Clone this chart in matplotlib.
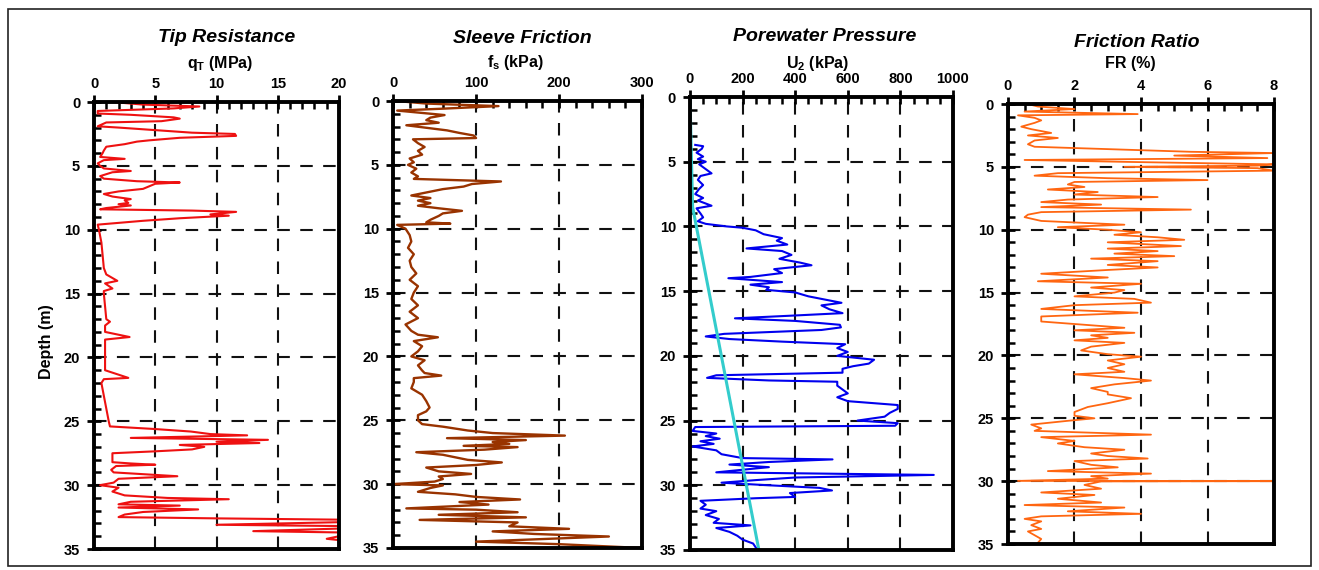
import matplotlib.pyplot as plt
from matplotlib.patches import Rectangle
from matplotlib.ticker import MultipleLocator

plt.rcParams["font.family"] = ["Liberation Sans", "DejaVu Sans"]

# Tip resistance qT (MPa)
qt_depth = [0.0, 0.2, 0.35, 0.5, 0.7, 0.9, 1.0, 1.2, 1.3, 1.5, 1.6, 1.9, 2.0, 2.2, 2.4, 2.5,
            2.65, 2.8, 3.0, 3.1, 3.3, 3.5, 3.8, 4.0, 4.3, 4.45, 4.55, 4.8, 5.0, 5.2, 5.4, 5.5,
            5.8, 6.0, 6.2, 6.3, 6.4, 6.6, 6.8, 7.0, 7.2, 7.4, 7.6, 7.7, 7.9, 8.0, 8.1, 8.3,
            8.4, 8.5, 8.6, 8.8, 8.9, 9.1, 9.3, 9.5, 9.6, 10.0, 11.0, 12.0, 13.0, 13.5, 14.0,
            14.2, 14.6, 14.8, 15.0, 16.0, 17.0, 17.2, 17.5, 18.0, 18.4, 18.6, 19.0, 20.0, 21.0,
            21.6, 21.7, 22.0, 23.0, 24.0, 25.0, 25.4, 25.6, 25.8, 26.0, 26.1, 26.3, 26.45, 26.6,
            26.7, 26.85, 27.0, 27.2, 27.35, 27.5, 27.8, 28.2, 28.3, 28.4, 28.5, 28.8, 29.0, 29.3,
            29.5, 29.8, 30.0, 30.2, 30.5, 30.8, 31.0, 31.1, 31.3, 31.5, 31.6, 31.75, 31.9, 32.1,
            32.3, 32.5, 32.6, 32.7, 32.9, 33.0, 33.1, 33.2, 33.4, 33.6, 33.7, 34.0, 34.2, 34.3]
qt_value = [1.5, 4.0, 8.6, 6.5, 0.3, 0.3, 3.0, 6.5, 7.0, 5.5, 1.0, 0.3, 2.0, 5.0, 8.0, 11.5,
            11.6, 7.0, 4.5, 3.5, 2.5, 1.0, 0.8, 0.7, 0.5, 2.5, 0.8, 0.3, 0.5, 0.8, 3.0, 1.5,
            0.5, 0.8, 3.5, 7.0, 5.0, 4.5, 4.0, 2.0, 0.8, 1.5, 3.0, 2.5, 2.8, 2.0, 3.0, 1.0,
            0.5, 8.0, 11.6, 9.5, 11.0, 7.0, 4.0, 1.5, 0.3, 0.4, 0.6, 0.7, 0.8, 1.0, 1.9,
            0.9, 1.5, 0.8, 0.8, 0.9, 1.0, 1.3, 0.9, 0.9, 2.9, 0.9, 0.9, 0.9, 0.9,
            2.8, 0.8, 0.6, 0.8, 1.0, 1.2, 1.3, 4.9, 7.9, 9.5, 12.5, 3.0, 14.2, 10.0,
            13.5, 7.0, 9.0, 8.0, 5.0, 1.5, 1.5, 1.5, 3.0, 5.0, 1.8, 1.4, 1.6, 6.8,
            2.0, 1.6, 0.5, 2.0, 1.5, 2.5, 6.0, 11.0, 3.0, 2.0, 7.0, 2.0, 8.5, 4.0,
            2.5, 2.0, 10.0, 20.0, 20.0, 15.0, 10.0, 20.0, 20.0, 13.0, 20.0, 20.0, 19.0, 20.0]

# Sleeve friction fs (kPa)
fs_depth = [0.0, 0.2, 0.4, 0.6, 0.75, 0.9, 1.1, 1.3, 1.5, 1.7, 1.9, 2.1, 2.3, 2.5, 2.7, 2.9,
            3.0, 3.3, 3.6, 3.9, 4.2, 4.5, 4.8, 5.0, 5.3, 5.6, 5.9, 6.1, 6.3, 6.5, 6.7, 6.9,
            7.1, 7.4, 7.6, 7.8, 8.0, 8.2, 8.4, 8.6, 8.8, 9.0, 9.3, 9.5, 9.6, 9.7, 10.0, 10.5,
            11.0, 11.5, 12.0, 12.5, 13.0, 13.5, 14.0, 14.5, 15.0, 15.5, 16.0, 16.5, 17.0, 17.5,
            18.0, 18.3, 18.5, 18.8, 19.2, 19.6, 20.0, 20.3, 20.7, 21.1, 21.3, 21.5, 21.7, 22.0,
            22.5, 23.0, 23.5, 24.0, 24.3, 24.6, 25.0, 25.3, 25.5, 25.8, 26.0, 26.2, 26.4, 26.55,
            26.7, 26.85, 27.0, 27.1, 27.3, 27.5, 27.7, 27.9, 28.1, 28.3, 28.5, 28.7, 29.0, 29.2,
            29.4, 29.6, 29.8, 30.0, 30.1, 30.3, 30.6, 30.8, 31.0, 31.2, 31.4, 31.6, 31.9, 32.0,
            32.2, 32.4, 32.6, 32.8, 33.0, 33.3, 33.5, 33.7, 33.9, 34.1, 34.3, 34.5, 34.7, 35.0]
fs_value = [4, 40, 127, 60, 5, 30, 62, 45, 40, 55, 16, 40, 65, 80, 97, 100,
            24, 30, 38, 30, 35, 20, 25, 18, 28, 22, 30, 25, 130, 95, 85, 60,
            45, 22, 45, 30, 45, 30, 55, 83, 60, 55, 45, 40, 69, 5, 15, 20,
            22, 18, 25, 20, 22, 28, 20, 30, 25, 22, 30, 20, 30, 15,
            22, 30, 54, 25, 35, 30, 22, 38, 30, 35, 38, 58, 25, 25,
            22, 35, 40, 44, 40, 30, 30, 35, 60, 90, 120, 207, 65, 160,
            120, 140, 85, 150, 110, 28, 60, 75, 90, 131, 100, 40, 55, 94,
            55, 60, 50, 0, 60, 45, 30, 75, 100, 153, 80, 115, 16, 100,
            150, 55, 160, 32, 150, 140, 212, 120, 170, 260, 180, 100, 200, 300]

# Porewater pressure u2 (kPa)
u2_depth = [3.7, 3.8, 4.0, 4.3, 4.6, 4.8, 5.0, 5.2, 5.5, 5.9, 6.1, 6.4, 6.8, 7.1, 7.5, 7.8,
            8.0, 8.4, 8.6, 9.0, 9.3, 9.6, 9.8, 10.0, 10.1, 10.3, 10.6, 10.9, 11.1, 11.4, 11.7,
            11.9, 12.2, 12.5, 12.8, 13.0, 13.3, 13.6, 13.9, 14.0, 14.3, 14.5, 14.7, 14.9, 15.1,
            15.4, 15.6, 15.9, 16.1, 16.4, 16.7, 16.9, 17.1, 17.3, 17.6, 17.8, 18.0, 18.3, 18.5,
            18.7, 18.9, 19.1, 19.4, 19.7, 20.0, 20.3, 20.6, 20.8, 21.0, 21.3, 21.5, 21.7, 21.9,
            22.0, 22.3, 22.6, 22.9, 23.2, 23.5, 23.8, 24.1, 24.4, 24.7, 25.0, 25.2, 25.4, 25.5,
            25.8, 26.0, 26.2, 26.4, 26.6, 26.8, 27.0, 27.3, 27.6, 27.9, 28.0, 28.2, 28.4, 28.6,
            28.8, 29.0, 29.2, 29.4, 29.6, 29.8, 30.0, 30.2, 30.4, 30.6, 30.9, 31.0, 31.2, 31.5,
            31.8, 32.0, 32.3, 32.6, 32.9, 33.1, 33.3, 33.6, 33.9, 34.2, 34.5, 34.8, 35.0]
u2_value = [20, 50, 45, 25, 50, 30, 60, 35, 55, 82, 40, 30, 50, 35, 20, 50,
            30, 82, 25, 40, 50, 30, 60, 140, 200, 250, 280, 350, 330, 370, 215,
            350, 386, 340, 420, 462, 320, 350, 230, 146, 350, 230, 300, 290, 400,
            450, 500, 576, 500, 530, 580, 380, 171, 400, 570, 574, 500, 130, 60,
            150, 350, 590, 560, 600, 560, 700, 680, 620, 580, 580, 100, 65, 300,
            560, 560, 580, 600, 560, 600, 790, 790, 760, 740, 637, 790, 780, 20,
            10, 100, 60, 113, 40, 90, 10, 100, 120, 200, 542, 300, 150, 300,
            200, 100, 927, 400, 250, 120, 300, 492, 540, 380, 400, 250, 40, 60,
            40, 100, 60, 110, 90, 230, 100, 150, 180, 200, 240, 250, 260]

# Hydrostatic line
hydro_depth = [0.0, 8.5, 35.0]
hydro_value = [0, 10, 262]

# Friction ratio FR (%)
fr_depth = [0.0, 0.2, 0.4, 0.6, 0.8, 0.9, 1.1, 1.3, 1.5, 1.8, 2.0, 2.3, 2.5, 2.7, 2.9, 3.2,
            3.4, 3.6, 3.8, 3.9, 4.1, 4.3, 4.45, 4.6, 4.8, 4.9, 5.0, 5.1, 5.3, 5.5, 5.7, 5.9,
            6.05, 6.2, 6.4, 6.6, 6.8, 7.0, 7.2, 7.4, 7.6, 7.8, 8.0, 8.2, 8.4, 8.6, 8.8, 9.0,
            9.3, 9.6, 9.8, 10.0, 10.2, 10.4, 10.6, 10.8, 11.0, 11.3, 11.5, 11.7, 11.9, 12.1,
            12.3, 12.5, 12.8, 13.0, 13.2, 13.5, 13.8, 14.1, 14.3, 14.6, 14.8, 15.0, 15.3, 15.5,
            15.8, 16.0, 16.3, 16.6, 16.9, 17.3, 17.6, 17.8, 18.0, 18.2, 18.4, 18.6, 18.8, 19.0,
            19.3, 19.6, 19.9, 20.1, 20.4, 20.7, 21.0, 21.3, 21.5, 21.8, 22.0, 22.3, 22.6, 22.9,
            23.1, 23.4, 23.8, 24.1, 24.5, 24.8, 25.0, 25.2, 25.5, 25.8, 26.0, 26.3, 26.5, 26.8,
            27.0, 27.3, 27.5, 27.8, 28.0, 28.2, 28.4, 28.7, 28.9, 29.2, 29.4, 29.6, 29.8, 29.98,
            30.0, 30.02, 30.3, 30.6, 30.9, 31.1, 31.4, 31.7, 31.9, 32.1, 32.4, 32.6, 32.8, 33.0,
            33.2, 33.5, 33.8, 34.0, 34.3, 34.6, 34.9]
fr_value = [0.6, 0.9, 2.0, 0.5, 3.9, 0.3, 0.8, 1.0, 0.8, 0.4, 0.7, 1.3, 0.6, 1.5, 0.8, 0.6,
            0.8, 3.2, 5.5, 8.0, 5.0, 7.8, 0.5, 3.5, 8.0, 7.5, 3.5, 7.5, 8.0, 1.5, 0.8, 3.0,
            6.0, 2.0, 1.8, 2.3, 1.2, 2.7, 2.0, 4.5, 1.8, 1.0, 2.8, 1.0, 5.5, 1.0, 0.6, 0.5,
            1.0, 3.5, 1.5, 3.0, 4.0, 3.2, 4.5, 5.3, 3.0, 5.2, 3.0, 4.5, 3.2, 5.0,
            2.5, 4.5, 3.0, 4.5, 3.0, 1.0, 3.0, 0.9, 4.0, 2.5, 3.5, 3.2, 2.0, 3.8,
            4.3, 2.0, 1.0, 3.9, 1.0, 1.0, 2.5, 3.5, 2.0, 3.8, 2.5, 3.0, 2.0, 3.5,
            2.5, 2.2, 3.0, 4.0, 3.0, 3.5, 3.0, 3.5, 2.0, 3.5, 4.3, 3.2, 2.5, 3.0,
            3.0, 3.7, 3.0, 2.4, 2.0, 2.0, 2.6, 1.8, 0.7, 1.0, 0.8, 4.3, 1.0, 2.0,
            1.5, 2.3, 3.5, 2.5, 3.0, 4.2, 2.0, 2.5, 3.3, 1.2, 4.3, 2.5, 3.0, 0.3,
            8.0, 2.8, 2.3, 2.8, 1.0, 2.6, 1.5, 2.8, 0.5, 3.5, 1.8, 4.0, 1.0, 0.5,
            1.0, 0.7, 1.0, 0.6, 0.8, 1.0, 0.9]

fig = plt.figure(figsize=(13.19, 5.70), dpi=100)

# panel boxes in figure fractions: left, bottom, width, height
panels = [
    dict(rect=[0.0713, 0.0368, 0.1857, 0.7842], xmax=20, major=5, minor=1,
         title="Tip Resistance", unit=r"q$_\mathregular{T}$ (MPa)", tx=0.172, ty=0.935, uy=0.889),
    dict(rect=[0.2980, 0.0386, 0.1888, 0.7842], xmax=300, major=100, minor=20,
         title="Sleeve Friction", unit=r"f$_\mathregular{s}$ (kPa)", tx=0.396, ty=0.933, uy=0.891),
    dict(rect=[0.5231, 0.0351, 0.1994, 0.7947], xmax=1000, major=200, minor=50,
         title="Porewater Pressure", unit=r"U$_\mathregular{2}$ (kPa)", tx=0.625, ty=0.936, uy=0.889),
    dict(rect=[0.7642, 0.0456, 0.2017, 0.7719], xmax=8, major=2, minor=0.5,
         title="Friction Ratio", unit="FR (%)", tx=0.862, ty=0.926, uy=0.889),
]

axes = []
for p in panels:
    ax = fig.add_axes(p["rect"])
    ax.set_xlim(0, p["xmax"])
    ax.set_ylim(35, 0)
    ax.xaxis.tick_top()
    ax.xaxis.set_major_locator(MultipleLocator(p["major"]))
    ax.xaxis.set_minor_locator(MultipleLocator(p["minor"]))
    ax.yaxis.set_major_locator(MultipleLocator(5))
    ax.yaxis.set_minor_locator(MultipleLocator(1))
    ax.tick_params(which="major", direction="inout", length=10, width=2,
                   labelsize=10.5, pad=3)
    ax.tick_params(axis="y", which="major", pad=5)
    ax.tick_params(which="minor", direction="in", length=5, width=1.8)
    ax.tick_params(axis="y", which="both", left=True, right=False)
    ax.tick_params(axis="x", which="both", top=True, bottom=False)
    for lab in ax.get_xticklabels() + ax.get_yticklabels():
        lab.set_fontweight("bold")
    for sp in ax.spines.values():
        sp.set_linewidth(2.8)
    ax.grid(True, which="major", color="#111111", linestyle=(0, (6, 5)), linewidth=1.5)
    fig.text(p["tx"], p["ty"], p["title"], ha="center", va="center",
             fontsize=14, fontweight="bold", fontstyle="italic")
    fig.text(p["tx"] - 0.005, p["uy"], p["unit"], ha="center", va="center",
             fontsize=11.5, fontweight="bold")
    axes.append(ax)

axes[0].plot(qt_value, qt_depth, color="#ee1111", lw=1.5)
axes[1].plot(fs_value, fs_depth, color="#993300", lw=1.7)
axes[2].plot(u2_value, u2_depth, color="#0000ee", lw=1.5)
axes[2].plot(hydro_value, hydro_depth, color="#33cccc", lw=2.2)
axes[3].plot(fr_value, fr_depth, color="#ff6611", lw=1.3)

fig.text(0.035, 0.40, "Depth (m)", rotation=90, ha="center", va="center",
         fontsize=11.5, fontweight="bold")

# outer frame
fig.patches.append(Rectangle((0.006, 0.007), 0.988, 0.978, transform=fig.transFigure,
                             fill=False, edgecolor="#222222", linewidth=1.2))

fig.savefig("out.png", dpi=100)
